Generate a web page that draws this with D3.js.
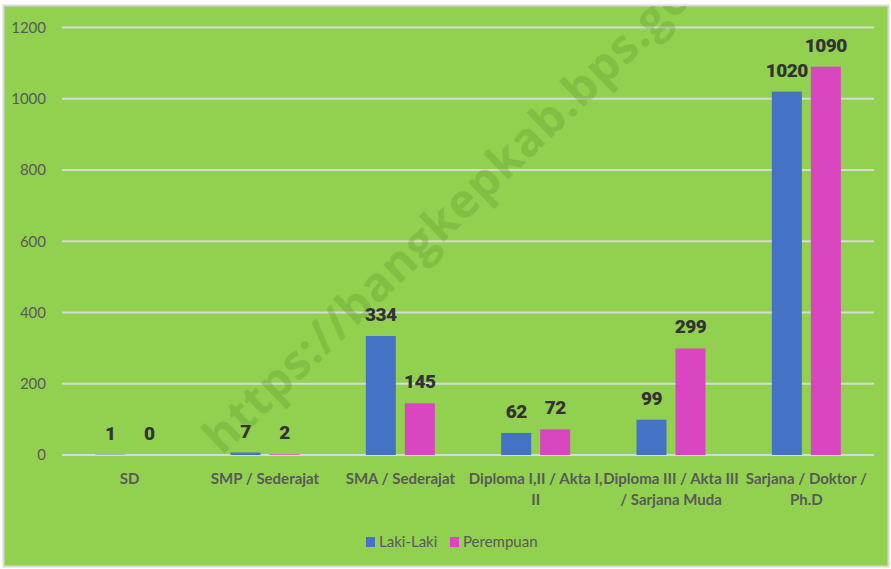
<!DOCTYPE html>
<html><head><meta charset="utf-8">
<script src="https://cdn.jsdelivr.net/npm/d3@7"></script>
<style>body{margin:0;background:#fff}svg{display:block}</style>
</head><body>
<svg id="c" width="891" height="569"></svg>
<script>
const categories = [["SD"],["SMP / Sederajat"],["SMA / Sederajat"],["Diploma I,II / Akta I,","II"],["Diploma III / Akta III","/ Sarjana Muda"],["Sarjana / Doktor /","Ph.D"]];
const seriesNames = ["Laki-Laki","Perempuan"];
const laki = [1,7,334,62,99,1020];
const perempuan = [0,2,145,72,299,1090];
const yTicks = [0,200,400,600,800,1000,1200];
const colors = ["#4472C4","#D946C0"];

(function(){
const svg = d3.select("#c");
svg.append("rect").attr("x",3.5).attr("y",5.5).attr("width",885).attr("height",561)
  .attr("fill","#92D050").attr("stroke","#d9d9d9").attr("stroke-width",2);
svg.append("clipPath").attr("id","clip").append("rect").attr("x",4).attr("y",6).attr("width",884).attr("height",560);

const pL=62, pR=874, pT=27.5, pB=455;
const x = d3.scaleBand().domain(d3.range(categories.length)).range([pL,pR]);
const y = d3.scaleLinear().domain([0,1200]).range([pB,pT]);

svg.append("g").selectAll("line").data(yTicks).join("line")
  .attr("x1",pL).attr("x2",pR).attr("y1",d=>y(d)).attr("y2",d=>y(d))
  .attr("stroke","#d9d9d9").attr("stroke-width",2);

const yAxis = d3.axisLeft(y).tickValues(yTicks).tickSize(0).tickPadding(16).tickFormat(d3.format("d"));
const ga = svg.append("g").attr("transform",`translate(${pL},0)`).call(yAxis);
ga.select(".domain").remove();
ga.selectAll("text").attr("font-family","Lato, 'Open Sans', sans-serif").attr("font-size",15).attr("fill","#595959");

svg.append("g").attr("clip-path","url(#clip)").append("text").text("https://bangkepkab.bps.go.id")
  .attr("transform","translate(222,456) rotate(-44)")
  .attr("font-family","'Open Sans', sans-serif").attr("font-weight",700).attr("font-size",47)
  .attr("fill","#5f9e2e").attr("fill-opacity",0.35).attr("letter-spacing",1);

const bw = 30, gap = 9;
const series = [laki, perempuan];
series.forEach((vals,si)=>{
  const g = svg.append("g");
  const xo = si===0 ? -(bw+gap/2) : gap/2;
  g.selectAll("rect").data(vals).join("rect")
    .attr("x",(d,i)=>x(i)+x.bandwidth()/2+xo)
    .attr("y",d=>y(d)).attr("width",bw).attr("height",d=>pB-y(d))
    .attr("fill",colors[si]);
  g.selectAll("text").data(vals).join("text")
    .attr("x",(d,i)=>x(i)+x.bandwidth()/2+xo+bw/2)
    .attr("y",d=>y(d)-15)
    .attr("text-anchor","middle")
    .attr("font-family","Roboto, 'DejaVu Sans', sans-serif").attr("font-weight",900).attr("font-size",19)
    .attr("letter-spacing",-0.5)
    .attr("fill","#333333").text(d=>d);
});

const cg = svg.append("g");
categories.forEach((lines,i)=>{
  const cx = x(i)+x.bandwidth()/2;
  const t = cg.append("text").attr("x",cx).attr("y",484)
    .attr("text-anchor","middle").attr("font-family","Lato, 'Open Sans', sans-serif")
    .attr("font-weight",700).attr("font-size",15).attr("fill","#595959");
  lines.forEach((l,j)=>t.append("tspan").attr("x",cx).attr("dy",j?21:0).text(l));
});

const lg = svg.append("g");
const legendX = [366,450];
seriesNames.forEach((n,i)=>{
  lg.append("rect").attr("x",legendX[i]).attr("y",537).attr("width",9).attr("height",10).attr("fill",colors[i]);
  lg.append("text").attr("x",legendX[i]+13).attr("y",547).text(n)
    .attr("font-family","Lato, 'Open Sans', sans-serif").attr("font-size",15).attr("fill","#595959");
});
})();
</script>
</body></html>
